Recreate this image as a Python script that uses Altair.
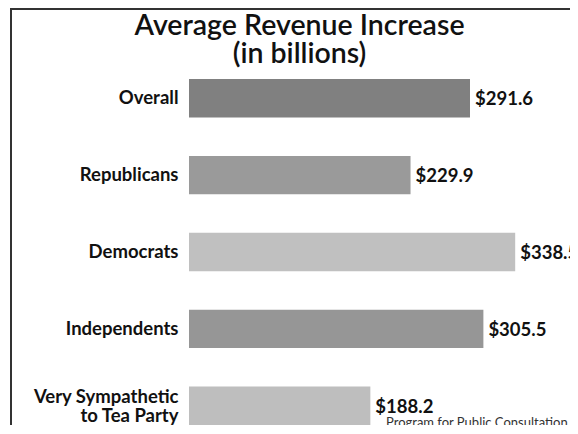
import altair as alt
import pandas as pd

categories = ["Overall", "Republicans", "Democrats", "Independents", "Very Sympathetic|to Tea Party"]
values = [291.6, 229.9, 338.5, 305.5, 188.2]
bar_colors = ["#808080", "#9a9a9a", "#c0c0c0", "#969696", "#bebebe"]
title_lines = ["Average Revenue Increase", "(in billions)"]
source_text = "Program for Public Consultation"

df = pd.DataFrame({"category": categories, "value": values})

FONT = "Lato"

base = alt.Chart(df).encode(
    y=alt.Y(
        "category:N",
        sort=categories,
        scale=alt.Scale(paddingInner=0.5, paddingOuter=0),
        axis=alt.Axis(
            title=None, ticks=False, domain=False, labelPadding=11,
            labelFont=FONT, labelFontSize=18.5, labelFontWeight="bold",
            labelColor="#111", labelLimit=0, labelLineHeight=19,
            labelExpr="split(datum.label, '|')",
            labelOffset={"condition": {"test": "indexof(datum.value, '|') >= 0", "value": -9}, "value": 0},
        ),
    ),
)

bars = base.mark_bar().encode(
    x=alt.X("value:Q", scale=alt.Scale(domain=[0, 385], nice=False), axis=None),
    color=alt.Color("category:N", sort=categories,
                    scale=alt.Scale(domain=categories, range=bar_colors), legend=None),
)

labels = base.mark_text(
    align="left", baseline="middle", dx=5, dy=1,
    font=FONT, fontSize=18.5, fontWeight="bold", color="#111",
).transform_calculate(
    label="'$' + format(datum.value, '.1f')"
).encode(
    x=alt.X("value:Q"),
    text="label:N",
)

source = alt.Chart(pd.DataFrame({"t": [source_text]})).mark_text(
    align="left", baseline="top", font=FONT, fontSize=13, color="#333",
).encode(
    x=alt.value(197), y=alt.value(338), text="t:N",
)

border_left = alt.Chart(pd.DataFrame({"a": [0]})).mark_rule(
    color="#333", strokeWidth=2
).encode(x=alt.value(-178), y=alt.value(-71), y2=alt.value(360))

border_top = alt.Chart(pd.DataFrame({"a": [0]})).mark_rule(
    color="#333", strokeWidth=2
).encode(y=alt.value(-70), x=alt.value(-179), x2=alt.value(400))

chart = alt.layer(bars, labels, source, border_left, border_top).properties(
    width=371,
    height=346,
    padding={"left": 181, "top": 71, "right": 10, "bottom": 0},
    autosize=alt.AutoSizeParams(type="none"),
    background="white",
    title=alt.TitleParams(
        text=title_lines, anchor="middle", dx=-75, dy=61, offset=0,
        font=FONT, fontSize=28.5, fontWeight=600, color="#111", lineHeight=28,
    ),
).configure_view(strokeWidth=0)

chart.save("out.html", embed_options={"renderer": "svg", "actions": False})
